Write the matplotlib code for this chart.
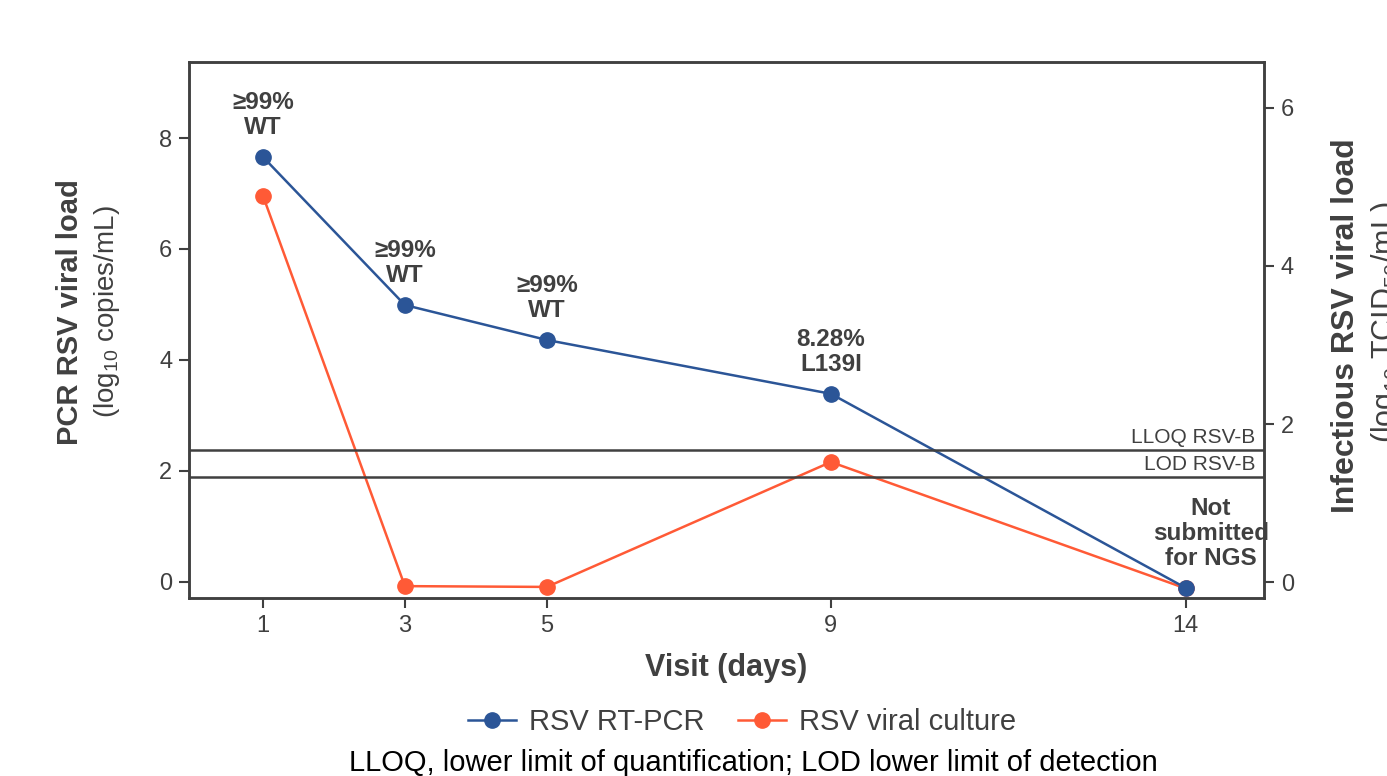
import matplotlib.pyplot as plt
import matplotlib.transforms as mtransforms
from matplotlib.lines import Line2D

plt.rcParams['font.family'] = ['Liberation Sans', 'DejaVu Sans']
plt.rcParams['mathtext.default'] = 'regular'

# ── data ─────────────────────────────
days = [1, 3, 5, 9, 14]
pcr_load = [7.66, 4.99, 4.36, 3.39, -0.11]        # log10 copies/mL (left axis)
culture_load = [4.89, -0.05, -0.06, 1.52, -0.08]  # log10 TCID50/mL (right axis)
variant_labels = ['≥99%\nWT', '≥99%\nWT', '≥99%\nWT', '8.28%\nL139I',
                  'Not\nsubmitted\nfor NGS']
limit_values = [2.38, 1.89]
limit_labels = ['LLOQ RSV-B', 'LOD RSV-B']

blue = '#2B5597'
orange = '#FF5A36'
grey = '#404040'

fig = plt.figure(figsize=(13.87, 7.76), dpi=100)
ax1 = fig.add_axes([0.1363, 0.2294, 0.775, 0.6907])
ax2 = ax1.twinx()
ax1.set_zorder(ax2.get_zorder() + 1)
ax1.patch.set_visible(False)

ax2.plot(days, culture_load, color=orange, lw=1.8, marker='o', ms=11)
ax1.plot(days, pcr_load, color=blue, lw=1.8, marker='o', ms=11)

blend = mtransforms.blended_transform_factory(ax1.transAxes, ax1.transData)
for val, lab in zip(limit_values, limit_labels):
    ax1.axhline(val, color=grey, lw=1.8)
    ax1.annotate(lab, xy=(0.992, val), xycoords=blend, xytext=(0, 2),
                 textcoords='offset points', ha='right', va='bottom',
                 fontsize=15, color=grey)

for i, (d, v, lab) in enumerate(zip(days, pcr_load, variant_labels)):
    dx = 18 if i == len(days) - 1 else 0
    ax1.annotate(lab, xy=(d, v), xytext=(dx, 13), textcoords='offset points',
                 ha='center', va='bottom', multialignment='center',
                 fontsize=17.5, fontweight='bold', color=grey, linespacing=1.12)

ax1.set_xlim(-0.04, 15.1)
ax1.set_ylim(-0.29, 9.37)
ax2.set_ylim(-0.2, 6.58)
ax1.set_xticks(days)
ax1.set_yticks([0, 2, 4, 6, 8])
ax2.set_yticks([0, 2, 4, 6])

for ax in (ax1, ax2):
    for sp in ax.spines.values():
        sp.set_color(grey)
        sp.set_linewidth(1.8)
    ax.tick_params(direction='out', length=7, width=1.5, color=grey,
                   labelsize=17, labelcolor=grey, pad=5)

ax1.set_xlabel('Visit (days)', fontsize=22, fontweight='bold', color=grey,
               labelpad=12)

# two-line axis titles (bold + regular); the right one runs off the edge
fig.text(0.0505, 0.598, 'PCR RSV viral load', rotation=90, ha='center',
         va='center', fontsize=21, fontweight='bold', color=grey)
fig.text(0.0775, 0.598, '(log$_{10}$ copies/mL)', rotation=90, ha='center',
         va='center', fontsize=20, color=grey)
fig.text(0.9705, 0.58, 'Infectious RSV viral load', rotation=90, ha='center',
         va='center', fontsize=23, fontweight='bold', color=grey)
fig.text(0.9995, 0.585, '(log$_{10}$ TCID$_{50}$/mL)', rotation=90, ha='center',
         va='center', fontsize=22, color=grey)

handles = [Line2D([], [], color=blue, lw=1.8, marker='o', ms=11),
           Line2D([], [], color=orange, lw=1.8, marker='o', ms=11)]
fig.legend(handles, ['RSV RT-PCR', 'RSV viral culture'], loc='center',
           bbox_to_anchor=(0.535, 0.0696), ncol=2, frameon=False,
           fontsize=21, labelcolor=grey, handlelength=1.65, columnspacing=1.13,
           handletextpad=0.45)

fig.text(0.543, 0.017, 'LLOQ, lower limit of quantification; LOD lower limit of detection',
         ha='center', va='center', fontsize=21, color='black')

plt.savefig('out.png', dpi=100)
